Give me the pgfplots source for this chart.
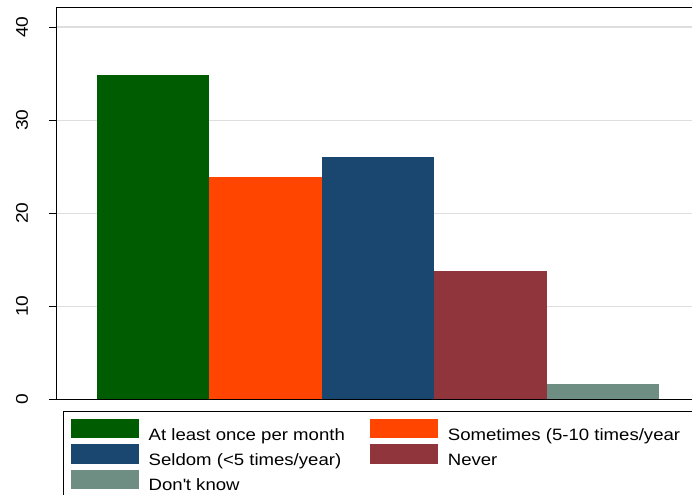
\documentclass[border=0pt]{standalone}
\usepackage{fontspec}
\setmainfont{Liberation Sans}[FakeStretch=1.13]
\usepackage{pgfplots}
\pgfplotsset{compat=1.18}
\definecolor{cA}{RGB}{0,92,0}
\definecolor{cB}{RGB}{255,69,0}
\definecolor{cC}{RGB}{26,71,111}
\definecolor{cD}{RGB}{144,53,59}
\definecolor{cE}{RGB}{110,142,132}
\begin{document}
\begin{tikzpicture}[x=1bp,y=1bp]
\begin{axis}[
  at={(56bp,95.7bp)}, anchor=south west,
  width=644bp, height=391.3bp, scale only axis,
  xmin=-0.865, xmax=4.865, ymin=0, ymax=42.07,
  xtick=\empty,
  ytick={0,10,20,30,40},
  ytick pos=left, tick align=outside, major tick length=7bp,
  tick style={black, line width=0.8bp},
  ymajorgrids, grid style={color=black!13, line width=1.5bp},
  yticklabel style={xshift=-21bp, rotate=90, anchor=base, inner sep=0pt, font=\fontsize{17}{18}\selectfont},
  /pgf/number format/assume math mode=true,
  axis line style={black, line width=1bp},
  ybar,
  every axis plot post/.append style={draw=none, bar shift=0pt, bar width=1,
    legend image code/.code={\fill[##1] (0bp,-2.6bp) rectangle (68bp,16.7bp);}},
  legend columns=2,
  legend cell align=left,
  legend style={at={(0,0)}, anchor=north west, xshift=14.7bp, yshift=-19.7bp,
    draw=none, fill=none, inner sep=0pt, outer sep=0pt,
    row sep=1.3bp,
    font=\fontsize{16.5}{18}\selectfont,
    nodes={inner sep=0pt, text height=12bp, text depth=2.6bp},
    /tikz/every odd column/.append style={column sep=10bp},
    /tikz/column 2/.append style={column sep=25bp}},
]
\addplot[fill=cA] coordinates {(0,34.84)};
\addlegendentry{At least once per month}
\addplot[fill=cB] coordinates {(1,23.87)};
\addlegendentry{Sometimes (5-10 times/year}
\addplot[fill=cC] coordinates {(2,26.09)};
\addlegendentry{Seldom (<5 times/year)}
\addplot[fill=cD] coordinates {(3,13.8)};
\addlegendentry{Never}
\addplot[fill=cE] coordinates {(4,1.65)};
\addlegendentry{Don\textquotesingle t know}
\end{axis}
\draw[black, line width=1bp] (63,83) rectangle (730,-30);
\pgfresetboundingbox
\useasboundingbox (0,0) rectangle (692,495);
\end{tikzpicture}
\end{document}
